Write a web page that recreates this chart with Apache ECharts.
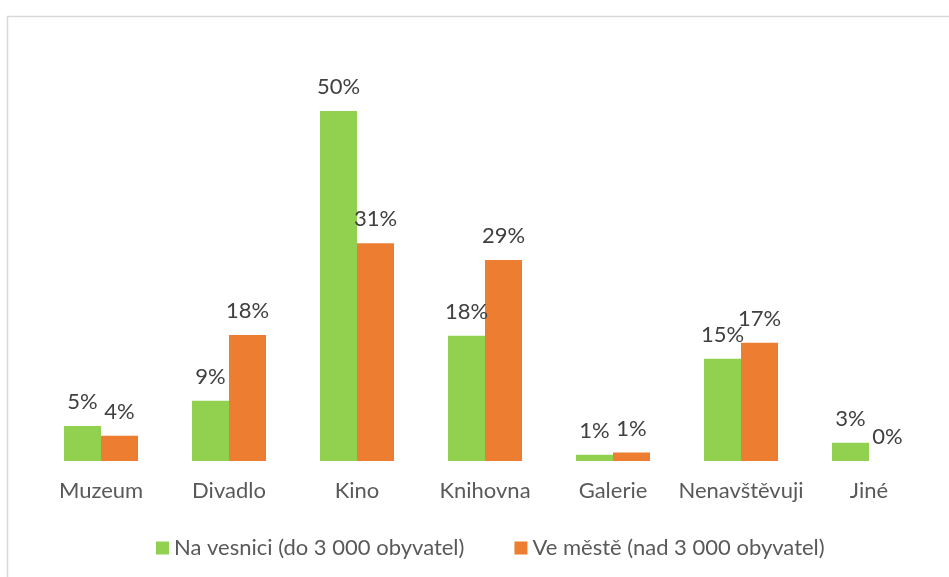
<!DOCTYPE html>
<html>
<head>
<meta charset="utf-8">
<script src="https://cdn.jsdelivr.net/npm/echarts@6/dist/echarts.min.js"></script>
<style>
  html, body { margin: 0; padding: 0; background: #fff; }
  #chart { width: 949px; height: 577px; }
</style>
</head>
<body>
<div id="chart"></div>
<script>
const categories = ['Muzeum', 'Divadlo', 'Kino', 'Knihovna', 'Galerie', 'Nenavštěvuji', 'Jiné']
const seriesNames = ['Na vesnici (do 3 000 obyvatel)', 'Ve městě (nad 3 000 obyvatel)']
const vesnice = [5, 8.6, 50, 17.9, 0.9, 14.6, 2.6]
const mesto = [3.6, 18, 31.1, 28.7, 1.2, 16.9, 0]

const fontFamily = 'Lato, "Noto Sans", sans-serif'

const chart = echarts.init(document.getElementById('chart'))

function makeSeries(name, data, color) {
  return {
    name: name,
    type: 'bar',
    barWidth: 37,
    barGap: 0,
    itemStyle: { color: color },
    label: {
      show: true,
      position: 'top',
      distance: 13,
      color: '#404040',
      fontFamily: fontFamily,
      fontSize: 22,
      formatter: p => Math.round(p.value) + '%'
    },
    data: data
  }
}

const option = {
  animation: false,
  textStyle: { fontFamily: fontFamily },
  graphic: [{
    type: 'rect',
    shape: { x: 7.5, y: 16.5, width: 1000, height: 1000 },
    style: { fill: 'none', stroke: '#d9d9d9', lineWidth: 1.5 }
  }],
  grid: {
    left: 37,
    right: 16,
    top: 41,
    bottom: 116
  },
  legend: {
    left: 151,
    top: 532,
    itemWidth: 13,
    itemHeight: 13,
    itemGap: 50,
    icon: 'rect',
    textStyle: {
      color: '#595959',
      fontFamily: fontFamily,
      fontSize: 22
    },
    data: seriesNames
  },
  xAxis: {
    type: 'category',
    data: categories,
    axisLine: { show: false },
    axisTick: { show: false },
    axisLabel: {
      interval: 0,
      margin: 19,
      color: '#595959',
      fontFamily: fontFamily,
      fontSize: 22
    }
  },
  yAxis: {
    type: 'value',
    min: 0,
    max: 60,
    show: false,
    splitLine: { show: false }
  },
  series: [
    makeSeries(seriesNames[0], vesnice, '#92d050'),
    makeSeries(seriesNames[1], mesto, '#ed7d31')
  ]
}

chart.setOption(option)
</script>
</body>
</html>
